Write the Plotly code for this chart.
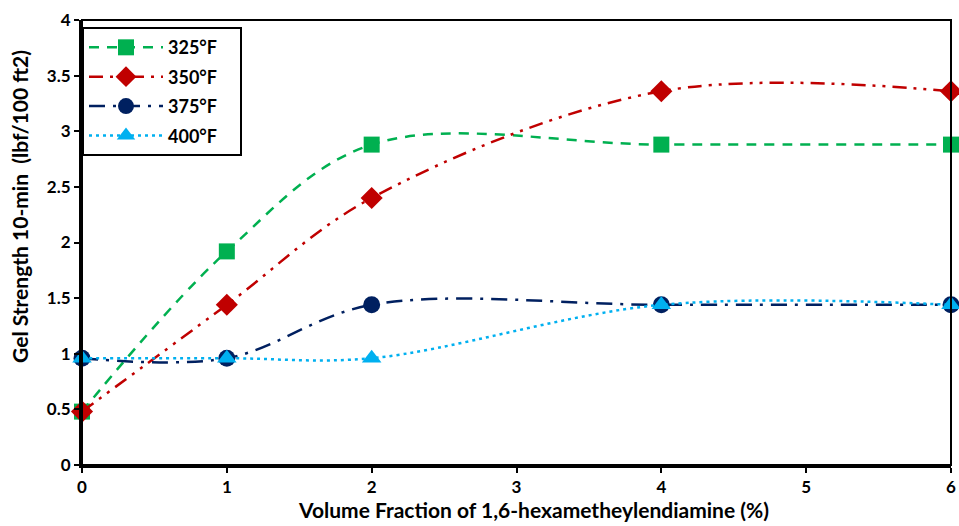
import plotly.graph_objects as go

x_vals = [0, 1, 2, 4, 6]
s325 = [0.48, 1.92, 2.88, 2.88, 2.88]
s350 = [0.48, 1.44, 2.40, 3.36, 3.36]
s375 = [0.96, 0.96, 1.44, 1.44, 1.44]
s400 = [0.96, 0.96, 0.96, 1.44, 1.44]
names = ["325°F", "350°F", "375°F", "400°F"]
x_ticks = [0, 1, 2, 3, 4, 5, 6]
y_ticks = [0, 0.5, 1, 1.5, 2, 2.5, 3, 3.5, 4]
y_tick_text = ["0", "0.5", "1", "1.5", "2", "2.5", "3", "3.5", "4"]

styles = [
    dict(color="#00B050", dash="10px,8px", symbol="square", size=16),
    dict(color="#C00000", dash="14px,7px,3px,7px,3px,7px", symbol="diamond", size=17),
    dict(color="#002060", dash="16px,8px,3px,8px", symbol="circle", size=17),
    dict(color="#00B0F0", dash="3px,4px", symbol="triangle-up", size=17),
]

fig = go.Figure()
for i, (name, ys, st) in enumerate(zip(names, [s325, s350, s375, s400], styles)):
    fig.add_trace(go.Scatter(
        x=x_vals, y=ys, name=name + "&nbsp;&nbsp;&nbsp;&nbsp;", mode="lines+markers",
        legendgroup=f"g{i}",
        line=dict(color=st["color"], width=2.5, dash=st["dash"], shape="spline", smoothing=1.0),
        marker=dict(symbol=st["symbol"], size=st["size"], color=st["color"], line=dict(width=0)),
        cliponaxis=False,
    ))

font_fam = "Lato, 'Open Sans', sans-serif"

fig.update_layout(
    width=959, height=526,
    margin=dict(l=82, r=8, t=20, b=61),
    paper_bgcolor="white", plot_bgcolor="white",
    font=dict(family=font_fam, size=17, color="black"),
    showlegend=True,
    legend=dict(
        x=0.0, y=0.984, xanchor="left", yanchor="top",
        bordercolor="black", borderwidth=2, bgcolor="white",
        font=dict(size=18, family=font_fam, weight="bold"),
        itemwidth=74, tracegroupgap=3,
    ),
    xaxis=dict(
        range=[0, 6], tickmode="array", tickvals=x_ticks,
        ticktext=[f"<b>{v}</b>" for v in x_ticks],
        showgrid=False, zeroline=False, automargin=False,
        ticklabeloverflow="allow",
        showline=True, linecolor="black", linewidth=3,
        ticks="outside", ticklen=5, tickwidth=2, tickcolor="black",
        tickfont=dict(size=17, family=font_fam),
    ),
    yaxis=dict(
        range=[0, 4], tickmode="array", tickvals=y_ticks,
        ticktext=[f"<b>{t}</b>" for t in y_tick_text],
        showgrid=False, zeroline=False, automargin=False,
        ticklabeloverflow="allow",
        showline=True, linecolor="black", linewidth=3,
        ticks="outside", ticklen=5, tickwidth=2, tickcolor="black",
        tickfont=dict(size=17, family=font_fam),
    ),
    shapes=[dict(type="rect", xref="paper", yref="paper", x0=0, y0=0, x1=1, y1=1,
                 line=dict(color="black", width=2), layer="above")],
    annotations=[
        dict(text="<b>Gel Strength 10-min&nbsp;&nbsp;(lbf/100 ft2)</b>", xref="paper", yref="paper",
             x=-0.0713, y=0.58, xanchor="center", yanchor="middle", textangle=-90,
             showarrow=False, font=dict(size=21, family=font_fam)),
        dict(text="<b>Volume Fraction of 1,6-hexametheylendiamine (%)</b>", xref="paper", yref="paper",
             x=0.519, y=-0.1, xanchor="center", yanchor="middle",
             showarrow=False, font=dict(size=21, family=font_fam)),
    ],
)

fig.write_html(
    "out.html",
    config={"displayModeBar": False},
    post_script="document.body.style.margin='0';document.body.style.overflow='hidden';",
)
